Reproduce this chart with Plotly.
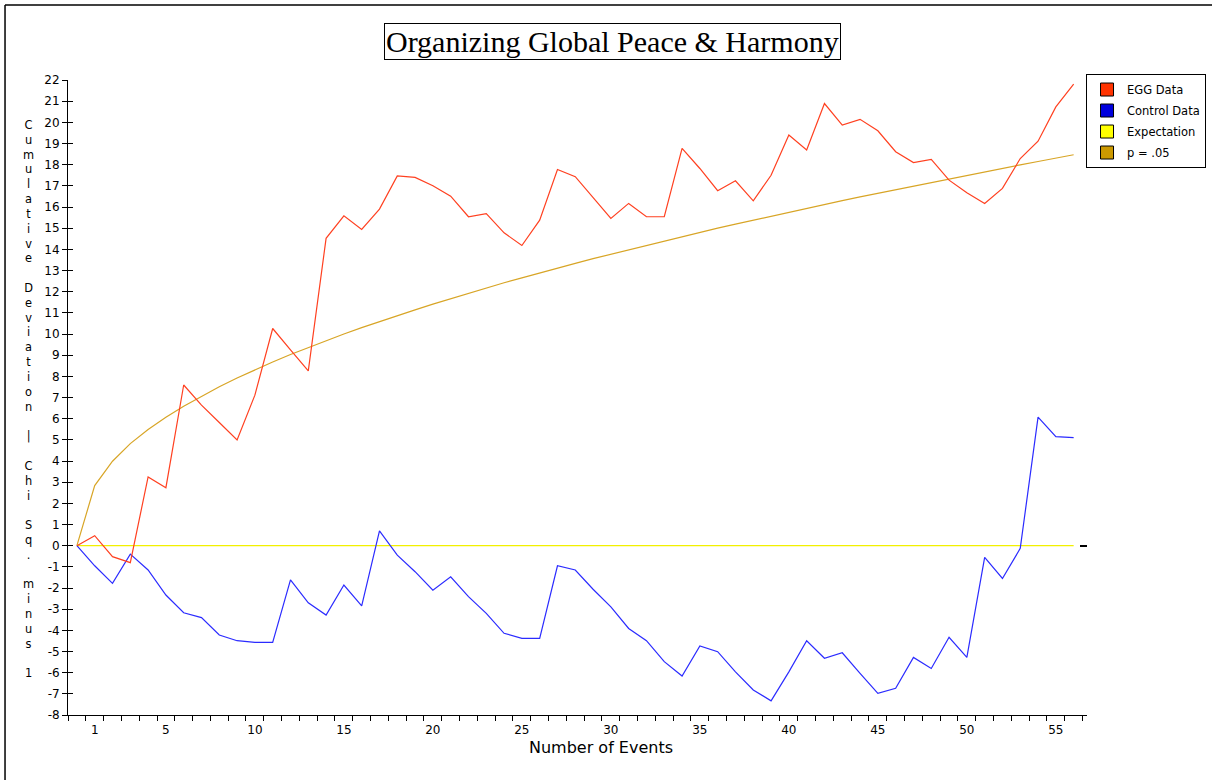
import plotly.graph_objects as go

# ---------------- data ----------------
events = list(range(0, 57))

egg_data = [0, 0.47, -0.52, -0.8, 3.25, 2.74, 7.59, 6.64, 5.82, 4.99,
            7.11, 10.26, 9.25, 8.26, 14.52, 15.58, 14.94, 15.9, 17.47, 17.4,
            17.0, 16.51, 15.54, 15.69, 14.78, 14.18, 15.38, 17.77, 17.43, 16.45,
            15.46, 16.17, 15.54, 15.54, 18.77, 17.82, 16.77, 17.24, 16.29, 17.5,
            19.4, 18.69, 20.89, 19.87, 20.14, 19.6, 18.61, 18.1, 18.25, 17.27,
            16.67, 16.17, 16.88, 18.29, 19.11, 20.73, 21.8]

control_data = [0, -0.95, -1.78, -0.40, -1.15, -2.33, -3.17, -3.4, -4.22, -4.49,
                -4.57, -4.57, -1.62, -2.7, -3.28, -1.86, -2.84, 0.7, -0.45, -1.23,
                -2.1, -1.47, -2.41, -3.2, -4.14, -4.38, -4.38, -0.95, -1.15, -2.06,
                -2.89, -3.91, -4.49, -5.48, -6.16, -4.74, -5.01, -5.96, -6.82, -7.33,
                -5.96, -4.49, -5.32, -5.06, -6.03, -6.98, -6.74, -5.28, -5.8, -4.33,
                -5.28, -0.55, -1.55, -0.13, 6.07, 5.15, 5.1]

expectation = [0] * 57

p05 = [0, 2.84, 3.99, 4.82, 5.49, 6.07, 6.59, 7.07, 7.51, 7.92,
       8.31, 8.68, 9.03, 9.36, 9.69, 10.00, 10.30, 10.59, 10.87, 11.14,
       11.41, 11.67, 11.92, 12.17, 12.42, 12.65, 12.89, 13.11, 13.34, 13.56,
       13.77, 13.98, 14.19, 14.40, 14.60, 14.80, 15.00, 15.19, 15.38, 15.57,
       15.76, 15.94, 16.12, 16.30, 16.48, 16.65, 16.83, 17.00, 17.17, 17.34,
       17.51, 17.67, 17.83, 17.99, 18.15, 18.31, 18.47]

series_names = ["EGG Data", "Control Data", "Expectation", "p = .05"]
x_tick_labels = [1, 5, 10, 15, 20, 25, 30, 35, 40, 45, 50, 55]
y_tick_values = list(range(-8, 23))
y_title_chars = list("Cumulative") + [""] + list("Deviation") + ["", "|", ""] + \
    list("Chi") + [""] + list("Sq.") + [""] + list("minus") + ["", "1"]

# ---------------- styling ----------------
line_colors = ["#FF4020", "#2B2BFF", "#F2F000", "#D8A526"]
swatch_colors = ["#FF3300", "#0000DD", "#FFFF00", "#CC9900"]
series = [egg_data, control_data, expectation, p05]

fig = go.Figure()

# draw order: p05 and expectation beneath the data
for idx in [3, 2, 1, 0]:
    fig.add_trace(go.Scatter(
        x=events, y=series[idx], mode="lines",
        line=dict(color=line_colors[idx], width=1.2),
        showlegend=False, hoverinfo="skip", name=series_names[idx]))

# legend entries with square swatches
for idx in range(4):
    fig.add_trace(go.Scatter(
        x=[None], y=[None], mode="markers", name=series_names[idx],
        legendgroup="g%d" % idx,
        marker=dict(symbol="square", size=13, color=swatch_colors[idx],
                    line=dict(color="black", width=1)),
        showlegend=True))

# helper empty traces to activate overlay axes (cross ticks / right dash)
fig.add_trace(go.Scatter(x=[None], y=[None], yaxis="y2", showlegend=False, hoverinfo="skip"))
fig.add_trace(go.Scatter(x=[None], y=[None], yaxis="y3", showlegend=False, hoverinfo="skip"))

tick_font = dict(family="DejaVu Sans", size=12, color="black")

fig.update_layout(
    template="none",
    width=1212, height=780, autosize=False,
    margin=dict(l=68, r=125, t=80, b=65, autoexpand=False),
    paper_bgcolor="white", plot_bgcolor="white",
    xaxis=dict(
        range=[-0.5, 56.75], showline=True, linecolor="black", linewidth=1,
        tickmode="array", tickvals=x_tick_labels,
        ticktext=[str(v) for v in x_tick_labels],
        ticks="outside", ticklen=4, tickcolor="rgba(0,0,0,0)",
        minor=dict(tick0=0.5, dtick=1, ticks="outside", ticklen=5,
                   tickcolor="black", tickwidth=1, showgrid=False),
        showgrid=False, zeroline=False, tickfont=tick_font, automargin=False),
    yaxis=dict(
        range=[-8, 22], showline=True, linecolor="black", linewidth=1,
        tickmode="array", tickvals=y_tick_values,
        ticktext=[("-" + str(-v)) if v < 0 else str(v) for v in y_tick_values],
        ticks="outside", ticklen=5, tickcolor="black",
        showgrid=False, zeroline=False, tickfont=tick_font, automargin=False),
    yaxis2=dict(
        range=[-8, 22], overlaying="y", side="left", anchor="x",
        tickmode="array", tickvals=y_tick_values,
        ticks="inside", ticklen=5, tickcolor="black",
        showticklabels=False, showline=False, showgrid=False, zeroline=False),
    yaxis3=dict(
        range=[-8, 22], overlaying="y", side="right", anchor="x",
        tickmode="array", tickvals=[0],
        ticks="inside", ticklen=7, tickcolor="black", tickwidth=1.5,
        showticklabels=False, showline=False, showgrid=False, zeroline=False),
    legend=dict(
        x=1.1168, xanchor="right", y=1.0094, yanchor="top",
        bordercolor="black", borderwidth=1, bgcolor="white",
        font=dict(family="DejaVu Sans", size=11.5, color="black"),
        itemwidth=30, traceorder="grouped", tracegroupgap=2),
    showlegend=True,
)

annotations = [
    dict(text="Organizing Global Peace &amp; Harmony", xref="paper", yref="paper",
         x=0.5339, y=1.0614, xanchor="center", yanchor="middle", showarrow=False,
         font=dict(family="Liberation Serif", size=30, color="black"),
         bordercolor="black", borderwidth=1, borderpad=1, bgcolor="white"),
    dict(text="Number of Events", xref="paper", yref="paper",
         x=0.523, y=-0.0504, xanchor="center", yanchor="middle", showarrow=False,
         font=dict(family="DejaVu Sans", size=16, color="black")),
    dict(text="<br>".join(c if c else " " for c in y_title_chars),
         xref="paper", yref="paper", x=-0.0383, y=0.4976,
         xanchor="center", yanchor="middle", showarrow=False, align="center",
         font=dict(family="DejaVu Sans", size=11.4, color="black")),
]
fig.update_layout(annotations=annotations)

# window-like frame on left and top
fig.add_shape(type="line", xref="paper", yref="paper", x0=-0.0618, x1=-0.0618,
              y0=1.118, y1=-0.11, line=dict(color="black", width=1.5))
fig.add_shape(type="line", xref="paper", yref="paper", x0=-0.0618, x1=1.13,
              y0=1.118, y1=1.118, line=dict(color="black", width=1.5))

fig.write_html("out.html", config={"displayModeBar": False},
               post_script="document.body.style.margin='0';document.body.style.overflow='hidden';")
